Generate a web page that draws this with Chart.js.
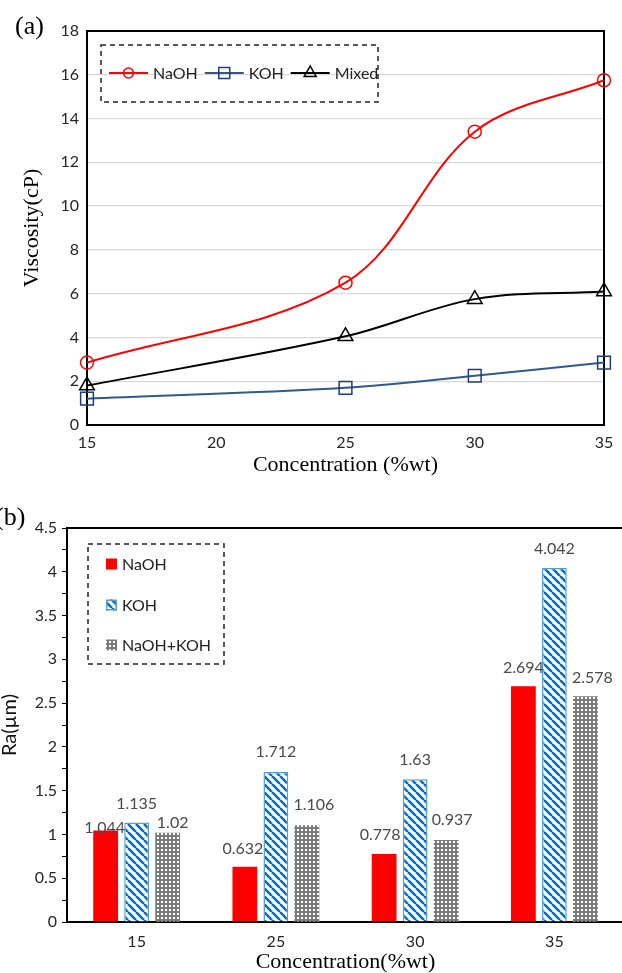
<!DOCTYPE html>
<html>
<head>
<meta charset="utf-8">
<title>Viscosity and Ra vs concentration</title>
<script src="https://cdn.jsdelivr.net/npm/chart.js@4.4.1/dist/chart.umd.min.js"></script>
<style>
  html, body { margin:0; padding:0; background:#fff; }
  body { width:622px; height:973px; overflow:hidden; position:relative; }
  #wrapA { position:absolute; left:0; top:0; width:622px; height:480px; }
  #wrapB { position:absolute; left:0; top:480px; width:630px; height:493px; }
  canvas { display:block; }
  .panel { position:absolute; font-family:"Liberation Serif","Times New Roman",serif; font-size:26px; line-height:26px; color:#000; white-space:nowrap; }
</style>
</head>
<body>
<div id="wrapA"><canvas id="chartA" width="622" height="480"></canvas></div>
<div id="wrapB"><canvas id="chartB" width="630" height="493"></canvas></div>
<div class="panel" style="left:15px;top:13px;">(a)</div>
<div class="panel" style="left:-5px;top:504px;">(b)</div>
<script>
// ---------- data ----------
const concentration = [15, 25, 30, 35];
const viscosityNaOH = [2.85, 6.5, 13.4, 15.75];
const viscosityKOH = [1.2, 1.7, 2.25, 2.85];
const viscosityMixed = [1.8, 4.05, 5.75, 6.1];
const viscosityXTicks = [15, 20, 25, 30, 35];
const viscosityYTicks = [0, 2, 4, 6, 8, 10, 12, 14, 16, 18];

const raCategories = ['15', '25', '30', '35'];
const raNaOH = [1.044, 0.632, 0.778, 2.694];
const raKOH = [1.135, 1.712, 1.63, 4.042];
const raMixed = [1.02, 1.106, 0.937, 2.578];
const raYTicks = [0, 0.5, 1, 1.5, 2, 2.5, 3, 3.5, 4, 4.5];

// ---------- styling helpers ----------
const SANS = 'Lato, "Open Sans", sans-serif';
const SERIF = '"Liberation Serif", "Times New Roman", serif';
Chart.defaults.font.family = SANS;
Chart.defaults.color = '#262626';

function toXY(xs, ys) { return xs.map((x, i) => ({ x: x, y: ys[i] })); }

function makeStripe(ctx) {
  const c = document.createElement('canvas'); c.width = 8; c.height = 8;
  const g = c.getContext('2d');
  g.fillStyle = '#ffffff'; g.fillRect(0, 0, 8, 8);
  g.strokeStyle = '#0070C0'; g.lineWidth = 2.6;
  [-8, 0, 8].forEach(k => { g.beginPath(); g.moveTo(k, 0); g.lineTo(k + 8, 8); g.stroke(); });
  return ctx.createPattern(c, 'repeat');
}
function makeDots(ctx) {
  const c = document.createElement('canvas'); c.width = 4; c.height = 4;
  const g = c.getContext('2d');
  g.fillStyle = '#7a7a7a'; g.fillRect(0, 0, 4, 4);
  g.fillStyle = '#ffffff'; g.fillRect(1, 1, 2, 2);
  return ctx.createPattern(c, 'repeat');
}

function drawMarker(ctx, style, x, y, size, color, lw) {
  ctx.save();
  ctx.strokeStyle = color; ctx.lineWidth = lw;
  ctx.beginPath();
  if (style === 'circle') {
    ctx.arc(x, y, size / 2, 0, Math.PI * 2);
  } else if (style === 'rect') {
    ctx.rect(x - size / 2, y - size / 2, size, size);
  } else {
    const h = size * Math.sqrt(3) / 2;
    ctx.moveTo(x, y - h * 2 / 3);
    ctx.lineTo(x + size / 2, y + h / 3);
    ctx.lineTo(x - size / 2, y + h / 3);
    ctx.closePath();
  }
  ctx.stroke();
  ctx.restore();
}

// frame plugin: draws chart area border lines
function framePlugin(sides, width) {
  return {
    id: 'frame',
    beforeDatasetsDraw(chart) {
      const { ctx, chartArea: a } = chart;
      ctx.save();
      ctx.strokeStyle = '#000'; ctx.lineWidth = width;
      ctx.beginPath();
      if (sides.includes('top')) { ctx.moveTo(a.left - 1, a.top); ctx.lineTo(a.right + 1, a.top); }
      if (sides.includes('right')) { ctx.moveTo(a.right, a.top); ctx.lineTo(a.right, a.bottom); }
      if (sides.includes('bottom')) { ctx.moveTo(a.left - 1, a.bottom); ctx.lineTo(a.right + 1, a.bottom); }
      if (sides.includes('left')) { ctx.moveTo(a.left, a.top); ctx.lineTo(a.left, a.bottom); }
      ctx.stroke();
      ctx.restore();
    }
  };
}

// ---------- chart (a) ----------
const markerSizes = { circle: 10, rect: 11, triangle: 12 };
const viscLegend = {
  id: 'viscLegend',
  afterDatasetsDraw(chart) {
    const ctx = chart.ctx;
    ctx.save();
    ctx.setLineDash([5, 4]); ctx.strokeStyle = '#222'; ctx.lineWidth = 1.5;
    ctx.strokeRect(101, 45, 277, 57);
    ctx.setLineDash([]);
    ctx.font = '16px ' + SANS; ctx.textBaseline = 'middle'; ctx.textAlign = 'left';
    let x = 109; const y = 73;
    chart.data.datasets.forEach(ds => {
      ctx.strokeStyle = ds.borderColor; ctx.lineWidth = 2;
      ctx.beginPath(); ctx.moveTo(x, y); ctx.lineTo(x + 39, y); ctx.stroke();
      drawMarker(ctx, ds.pointStyle, x + 19.5, y, markerSizes[ds.pointStyle], ds.pointBorderColor, 1.5);
      ctx.fillStyle = '#222';
      ctx.fillText(ds.label, x + 44, y + 1);
      x += 44 + ctx.measureText(ds.label).width + 7;
    });
    ctx.restore();
  }
};

const ctxA = document.getElementById('chartA').getContext('2d');
new Chart(ctxA, {
  type: 'line',
  data: {
    datasets: [
      { label: 'NaOH', data: toXY(concentration, viscosityNaOH), borderColor: '#FF0000', borderWidth: 2,
        pointStyle: 'circle', pointRadius: 6.5, pointBorderColor: '#FF0000', pointBackgroundColor: 'rgba(0,0,0,0)',
        pointBorderWidth: 1.5, tension: 0.35, clip: false },
      { label: 'KOH', data: toXY(concentration, viscosityKOH), borderColor: '#2F5A8A', borderWidth: 2,
        pointStyle: 'rect', pointRadius: 9, pointBorderColor: '#1F3C7C', pointBackgroundColor: 'rgba(0,0,0,0)',
        pointBorderWidth: 1.5, tension: 0.35, clip: false },
      { label: 'Mixed', data: toXY(concentration, viscosityMixed), borderColor: '#000000', borderWidth: 2,
        pointStyle: 'triangle', pointRadius: 8.5, pointBorderColor: '#000000', pointBackgroundColor: 'rgba(0,0,0,0)',
        pointBorderWidth: 1.5, tension: 0.35, clip: false }
    ]
  },
  options: {
    responsive: false, animation: false,
    layout: { padding: { top: 31, right: 18, left: 0, bottom: 0 } },
    plugins: { legend: { display: false }, tooltip: { enabled: false } },
    scales: {
      x: {
        type: 'linear', min: 15, max: 35,
        afterBuildTicks: s => { s.ticks = viscosityXTicks.map(v => ({ value: v })); },
        grid: { display: false, drawTicks: false },
        border: { display: false },
        ticks: { padding: 8, font: { size: 16 }, color: '#262626' },
        title: { display: true, text: 'Concentration (%wt)', color: '#000',
          font: { family: SERIF, size: 22 }, padding: { top: 0, bottom: 2 } },
        afterFit: s => { s.height = 55; }
      },
      y: {
        min: 0, max: 18,
        afterBuildTicks: s => { s.ticks = viscosityYTicks.map(v => ({ value: v })); },
        grid: { color: '#d9d9d9', lineWidth: 1.3, drawTicks: false },
        border: { display: false },
        ticks: { padding: 8, font: { size: 16 }, color: '#262626' },
        title: { display: true, text: 'Viscosity(cP)', color: '#000',
          font: { family: SERIF, size: 22 }, padding: { top: 19, bottom: 0 } },
        afterFit: s => { s.width = 87; }
      }
    }
  },
  plugins: [framePlugin(['top', 'right', 'bottom', 'left'], 2), viscLegend]
});

// ---------- chart (b) ----------
const ctxB = document.getElementById('chartB').getContext('2d');
const stripe = makeStripe(ctxB);
const dots = makeDots(ctxB);

const barLabels = {
  id: 'barLabels',
  afterDatasetsDraw(chart) {
    const lift = [[3, 18, 19, 18], [19, 20, 19, 19], [10, 20, 20, 18]];
    const shift = [[-1, -2, -4, 0], [0, 0, 0, 0], [5, 7, 6, 7]];
    const ctx = chart.ctx;
    ctx.save();
    ctx.font = '16px ' + SANS; ctx.fillStyle = '#4a4a4a';
    ctx.textAlign = 'center'; ctx.textBaseline = 'middle';
    chart.data.datasets.forEach((ds, di) => {
      chart.getDatasetMeta(di).data.forEach((bar, i) => {
        ctx.fillText(String(ds.data[i]), bar.x + shift[di][i], bar.y - lift[di][i]);
      });
    });
    ctx.restore();
  }
};

const raLegend = {
  id: 'raLegend',
  afterDatasetsDraw(chart) {
    const ctx = chart.ctx;
    ctx.save();
    ctx.setLineDash([5, 4]); ctx.strokeStyle = '#222'; ctx.lineWidth = 1.5;
    ctx.strokeRect(88, 64, 136, 120);
    ctx.setLineDash([]);
    ctx.font = '16px ' + SANS; ctx.textBaseline = 'middle'; ctx.textAlign = 'left';
    const rows = [84, 125, 165];
    chart.data.datasets.forEach((ds, i) => {
      const y = rows[i];
      ctx.fillStyle = ds.backgroundColor;
      ctx.fillRect(106, y - 5.5, 11, 11);
      if (ds.borderWidth) {
        ctx.strokeStyle = ds.borderColor; ctx.lineWidth = 1.5;
        ctx.strokeRect(106.75, y - 4.75, 9.5, 9.5);
      }
      ctx.fillStyle = '#222';
      ctx.fillText(ds.label, 122, y + 1);
    });
    ctx.restore();
  }
};

new Chart(ctxB, {
  type: 'bar',
  data: {
    labels: raCategories,
    datasets: [
      { label: 'NaOH', data: raNaOH, backgroundColor: '#FF0000', borderWidth: 0 },
      { label: 'KOH', data: raKOH, backgroundColor: stripe, borderColor: '#5B9BD5', borderWidth: 1.5 },
      { label: 'NaOH+KOH', data: raMixed, backgroundColor: dots, borderWidth: 0 }
    ]
  },
  options: {
    responsive: false, animation: false,
    layout: { padding: { top: 48, right: 6, left: 0, bottom: 0 } },
    datasets: { bar: { categoryPercentage: 0.668, barPercentage: 0.8 } },
    plugins: { legend: { display: false }, tooltip: { enabled: false } },
    scales: {
      x: {
        grid: { display: false, drawTicks: false },
        border: { color: '#000', width: 2 },
        ticks: { padding: 10, font: { size: 16 }, color: '#262626' },
        title: { display: true, text: 'Concentration(%wt)', color: '#000',
          font: { family: SERIF, size: 22, lineHeight: 1 }, padding: { top: 0, bottom: 0 } },
        afterFit: s => { s.height = 51; }
      },
      y: {
        min: 0, max: 4.5,
        ticks: { stepSize: 0.25, autoSkip: false, padding: 5, font: { size: 16 }, color: '#262626',
          callback: v => raYTicks.includes(v) ? String(v) : '' },
        grid: { drawOnChartArea: false, tickLength: 5, color: '#000', tickColor: '#000', lineWidth: 1 },
        border: { color: '#000', width: 2 },
        title: { display: true, text: 'Ra(µm)', color: '#111',
          font: { family: SANS, size: 20, lineHeight: 1 }, padding: { top: 0, bottom: 0 } },
        afterFit: s => { s.width = 67; }
      }
    }
  },
  plugins: [framePlugin(['top', 'right'], 2), barLabels, raLegend]
});
</script>
</body>
</html>
